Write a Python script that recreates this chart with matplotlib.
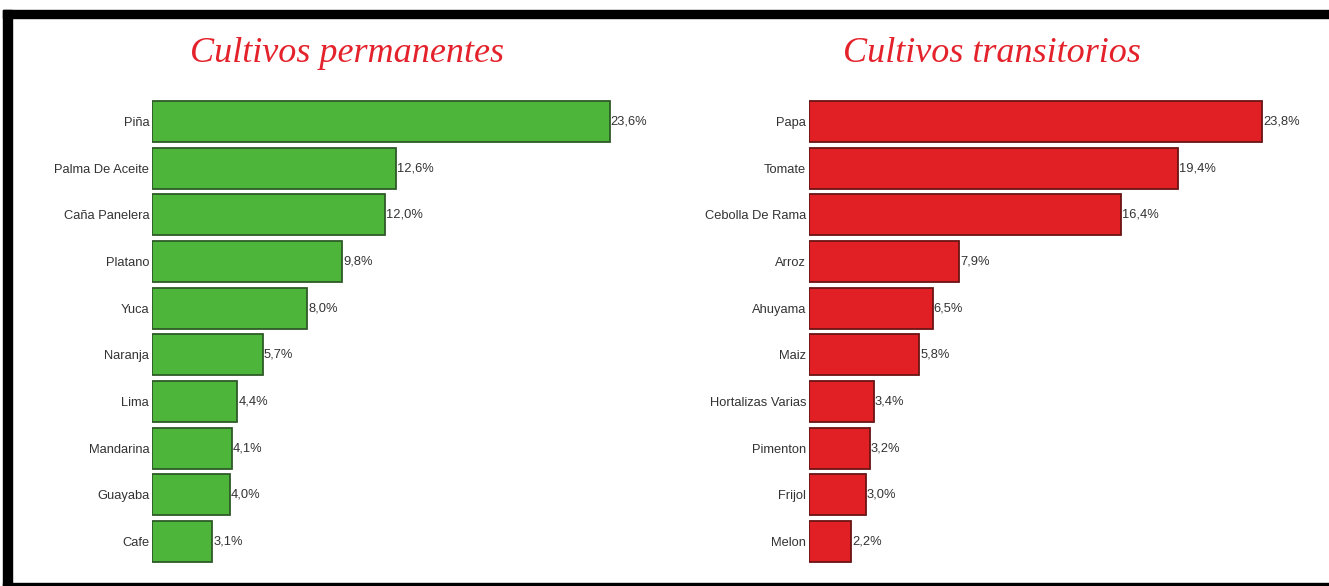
import matplotlib
matplotlib.use('Agg')
import matplotlib.pyplot as plt
from matplotlib.patches import Rectangle

# Cultivos permanentes (% de área)
perm_cultivos = ['Piña', 'Palma De Aceite', 'Caña Panelera', 'Platano', 'Yuca',
                 'Naranja', 'Lima', 'Mandarina', 'Guayaba', 'Cafe']
perm_valores = [23.6, 12.6, 12.0, 9.8, 8.0, 5.7, 4.4, 4.1, 4.0, 3.1]

# Cultivos transitorios (% de área)
trans_cultivos = ['Papa', 'Tomate', 'Cebolla De Rama', 'Arroz', 'Ahuyama',
                  'Maiz', 'Hortalizas Varias', 'Pimenton', 'Frijol', 'Melon']
trans_valores = [23.8, 19.4, 16.4, 7.9, 6.5, 5.8, 3.4, 3.2, 3.0, 2.2]

W, H = 1329, 586
fig = plt.figure(figsize=(W / 100, H / 100), dpi=100)
fig.patch.set_facecolor('white')

fuente = 'Liberation Sans'


def panel(x0, ancho, cultivos, valores, color, borde, titulo, titulo_x):
    ax = fig.add_axes([x0 / W, 21 / H, ancho / W, 467 / H])
    y = range(len(cultivos))
    ax.barh(y, valores, height=0.88, color=color, edgecolor=borde, linewidth=1.3)
    ax.set_xlim(0, 26)
    ax.set_ylim(len(cultivos) - 0.5, -0.5)
    ax.set_yticks(list(y))
    ax.set_yticklabels(cultivos, family=fuente, fontsize=9.3, color='#333333')
    ax.tick_params(axis='y', length=0, pad=2)
    ax.set_xticks([])
    for s in ax.spines.values():
        s.set_visible(False)
    for i, v in enumerate(valores):
        ax.text(v + 0.05, i, f'{v:.1f}'.replace('.', ',') + '%', va='center', ha='left',
                family=fuente, fontsize=9.3, color='#333333')
    fig.text(titulo_x / W, 1 - 54 / H, titulo, ha='center', va='center',
             family='Liberation Serif', style='italic', fontsize=26, color='#e4222b')
    return ax


panel(152, 26 * 19.4, perm_cultivos, perm_valores, '#4cb53a', '#2e5a28',
      'Cultivos permanentes', 347)
panel(809, 26 * 19.03, trans_cultivos, trans_valores, '#e02024', '#6a1414',
      'Cultivos transitorios', 992)

# marco negro (superior, izquierdo e inferior)
for x, y, w, h in [(3, 10, W - 3, 8), (3, 10, 9, H - 10), (3, H - 3, W - 3, 3)]:
    fig.patches.append(Rectangle((x / W, 1 - (y + h) / H), w / W, h / H,
                                 transform=fig.transFigure, color='black', zorder=10))

fig.savefig('out.png', dpi=100)
